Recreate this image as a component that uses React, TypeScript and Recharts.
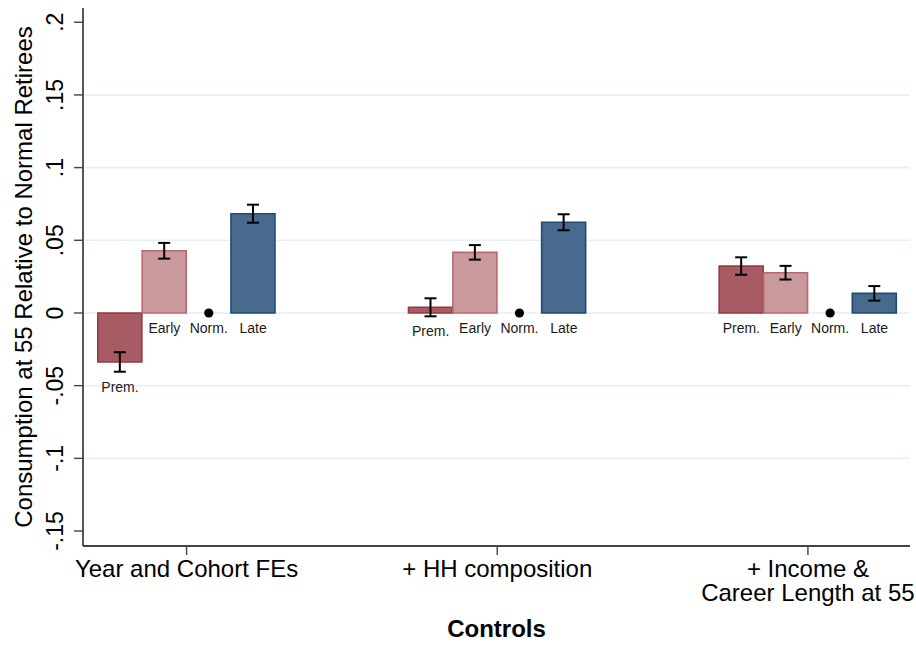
import React from 'react';
import { ComposedChart, Bar, XAxis, YAxis, CartesianGrid, ErrorBar, Scatter, Cell } from 'recharts';

const categories = ['Year and Cohort FEs', '+ HH composition', '+ Income &\nCareer Length at 55'];
const barLabels = ['Prem.', 'Early', 'Norm.', 'Late'];
const premValues = [-0.0337, 0.0039, 0.0323];
const premErrors = [0.0067, 0.0062, 0.006];
const earlyValues = [0.0428, 0.0417, 0.0277];
const earlyErrors = [0.0054, 0.005, 0.0047];
const normValues = [0, 0, 0];
const lateValues = [0.0683, 0.0624, 0.0135];
const lateErrors = [0.0062, 0.0055, 0.005];
const yTicks = [-0.15, -0.1, -0.05, 0, 0.05, 0.1, 0.15, 0.2];
const gridValues = [-0.1, -0.05, 0, 0.05, 0.1, 0.15];

const FONT = '"Liberation Sans", Arial, Helvetica, sans-serif';
const fills: Record<string, string> = { prem: '#a65c62', early: '#c99a9d', late: '#476a8d' };
const strokes: Record<string, string> = { prem: '#953842', early: '#b9686f', late: '#1e4b77' };

const groupStart = [0, 7, 14];
const categoryPos = groupStart.map((g) => g + 1.5);

type Row = { x: number; value: number; err: number; series: string };
const bars: Row[] = [];
const labels: { x: number; y: number; label: string }[] = [];
const dots: { x: number; y: number }[] = [];
categories.forEach((_, i) => {
  const g = groupStart[i];
  bars.push({ x: g, value: premValues[i], err: premErrors[i], series: 'prem' });
  bars.push({ x: g + 1, value: earlyValues[i], err: earlyErrors[i], series: 'early' });
  bars.push({ x: g + 3, value: lateValues[i], err: lateErrors[i], series: 'late' });
  dots.push({ x: g + 2, y: normValues[i] });
  labels.push({ x: g, y: Math.min(0, premValues[i] - premErrors[i]), label: barLabels[0] });
  labels.push({ x: g + 1, y: Math.min(0, earlyValues[i] - earlyErrors[i]), label: barLabels[1] });
  labels.push({ x: g + 2, y: Math.min(0, normValues[i]), label: barLabels[2] });
  labels.push({ x: g + 3, y: Math.min(0, lateValues[i] - lateErrors[i]), label: barLabels[3] });
});

const fmtY = (v: number) => {
  if (v === 0) return '0';
  const s = String(Math.abs(v)).replace(/^0/, '');
  return (v < 0 ? '-' : '') + s;
};

const YTick = (props: any) => {
  const { x, y, payload } = props;
  return (
    <text
      x={x}
      y={y}
      transform={`rotate(-90, ${x}, ${y})`}
      textAnchor="middle"
      fontFamily={FONT}
      fontSize={23}
      fill="#000"
    >
      {fmtY(payload.value)}
    </text>
  );
};

const XTick = (props: any) => {
  const { x, y, payload } = props;
  const idx = categoryPos.indexOf(payload.value);
  const lines = (categories[idx] || '').split('\n');
  return (
    <text x={x} y={y + 22} textAnchor="middle" fontFamily={FONT} fontSize={24} fill="#000">
      {lines.map((l, i) => (
        <tspan key={i} x={x} dy={i === 0 ? 0 : 24}>
          {l}
        </tspan>
      ))}
    </text>
  );
};

const YTitle = (props: any) => {
  const vb = props.viewBox || { x: 0, y: 8, width: 83, height: 538 };
  const cx = 31.5;
  const cy = vb.y + vb.height / 2;
  return (
    <text
      x={cx}
      y={cy}
      transform={`rotate(-90, ${cx}, ${cy})`}
      textAnchor="middle"
      fontFamily={FONT}
      fontSize={24}
      fill="#000"
    >
      Consumption at 55 Relative to Normal Retirees
    </text>
  );
};

const XTitle = (props: any) => {
  const vb = props.viewBox || { x: 83, y: 546, width: 827, height: 100 };
  return (
    <text
      x={vb.x + vb.width / 2}
      y={vb.y + 91}
      textAnchor="middle"
      fontFamily={FONT}
      fontSize={24}
      fontWeight="bold"
      fill="#000"
    >
      Controls
    </text>
  );
};

const LabelShape = (props: any) => {
  const { cx, cy, payload } = props;
  return (
    <text x={cx} y={cy + 20} textAnchor="middle" fontFamily={FONT} fontSize={14} fill="#1a1a1a">
      {payload.label}
    </text>
  );
};

const DotShape = (props: any) => {
  const { cx, cy } = props;
  return <circle cx={cx} cy={cy} r={4.6} fill="#000" />;
};

export default function App() {
  return (
    <div style={{ position: 'absolute', left: 0, top: 0, background: '#fff' }}>
      <ComposedChart
        width={916}
        height={646}
        data={bars}
        margin={{ top: 8, right: 6, left: 0, bottom: 0 }}
      >
        <CartesianGrid
          horizontal
          vertical={false}
          horizontalValues={gridValues}
          stroke="#e6eff2"
          strokeWidth={1.6}
        />
        <XAxis
          dataKey="x"
          type="number"
          domain={[-0.834, 17.8]}
          allowDataOverflow
          ticks={categoryPos}
          interval={0}
          height={100}
          tickSize={9}
          tickMargin={0}
          tick={<XTick />}
          axisLine={{ stroke: '#444', strokeWidth: 1.8 }}
          tickLine={{ stroke: '#444', strokeWidth: 1.4 }}
          label={<XTitle />}
        />
        <YAxis
          type="number"
          domain={[-0.1603, 0.2098]}
          allowDataOverflow
          ticks={yTicks}
          interval={0}
          width={83}
          tickSize={9}
          tickMargin={11}
          tick={<YTick />}
          axisLine={{ stroke: '#444', strokeWidth: 1.8 }}
          tickLine={{ stroke: '#444', strokeWidth: 1.4 }}
          label={<YTitle />}
        />
        <Bar dataKey="value" barSize={44} isAnimationActive={false} strokeWidth={1.6}>
          {bars.map((b, i) => (
            <Cell key={i} fill={fills[b.series]} stroke={strokes[b.series]} />
          ))}
          <ErrorBar dataKey="err" width={6} stroke="#000" strokeWidth={2} direction="y" />
        </Bar>
        <Scatter data={dots} dataKey="y" shape={<DotShape />} isAnimationActive={false} />
        <Scatter data={labels} dataKey="y" shape={<LabelShape />} isAnimationActive={false} />
      </ComposedChart>
    </div>
  );
}
